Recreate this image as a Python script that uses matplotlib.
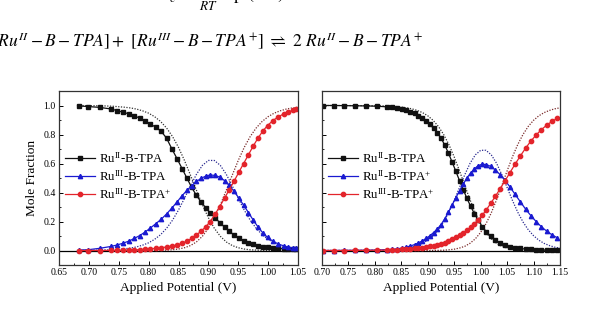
import matplotlib.pyplot as plt
from matplotlib.ticker import MultipleLocator

plt.rcParams['font.family'] = ['Liberation Serif', 'DejaVu Serif']
plt.rcParams['mathtext.fontset'] = 'custom'
plt.rcParams['mathtext.rm'] = 'Liberation Serif'
plt.rcParams['mathtext.it'] = 'Liberation Serif:italic'

# Left panel: measured points (V, mole fraction)
x_left = [0.683, 0.698, 0.718, 0.737, 0.747, 0.757, 0.767, 0.776, 0.785, 0.794,
          0.803, 0.812, 0.821, 0.830, 0.839, 0.848, 0.856, 0.864, 0.872, 0.880,
          0.888, 0.896, 0.903, 0.911, 0.919, 0.927, 0.935, 0.943, 0.951, 0.959,
          0.967, 0.975, 0.983, 0.991, 0.999, 1.008, 1.017, 1.026, 1.034, 1.041, 1.047]
ru2_left = [0.997, 0.993, 0.987, 0.976, 0.965, 0.954, 0.942, 0.929, 0.913, 0.893,
            0.872, 0.850, 0.822, 0.775, 0.700, 0.630, 0.565, 0.500, 0.435, 0.380,
            0.333, 0.293, 0.260, 0.226, 0.193, 0.162, 0.133, 0.107, 0.086, 0.068,
            0.054, 0.043, 0.034, 0.027, 0.022, 0.018, 0.015, 0.012, 0.011, 0.010, 0.009]
ru3_left = [0.003, 0.005, 0.015, 0.028, 0.038, 0.050, 0.065, 0.083, 0.103, 0.127,
            0.155, 0.185, 0.215, 0.252, 0.293, 0.337, 0.378, 0.414, 0.447, 0.476,
            0.498, 0.514, 0.521, 0.518, 0.506, 0.482, 0.449, 0.408, 0.362, 0.312,
            0.262, 0.210, 0.163, 0.122, 0.090, 0.064, 0.045, 0.032, 0.024, 0.018, 0.014]
ru3p_left = [0.0, 0.0, 0.0, 0.001, 0.001, 0.002, 0.003, 0.004, 0.006, 0.008,
             0.011, 0.015, 0.019, 0.024, 0.030, 0.038, 0.050, 0.064, 0.083, 0.107,
             0.134, 0.165, 0.200, 0.249, 0.303, 0.360, 0.420, 0.478, 0.540, 0.600,
             0.660, 0.720, 0.775, 0.823, 0.862, 0.896, 0.922, 0.942, 0.956, 0.966, 0.975]

# Left panel: dotted curves
xf_left = [0.68, 0.70, 0.72, 0.74, 0.76, 0.77, 0.78, 0.79, 0.80, 0.81, 0.82, 0.83,
           0.84, 0.85, 0.86, 0.87, 0.88, 0.89, 0.90, 0.91, 0.92, 0.93, 0.94, 0.95,
           0.96, 0.97, 0.98, 0.99, 1.00, 1.01, 1.02, 1.03, 1.04, 1.05]
ru2f_left = [1.0, 0.999, 0.998, 0.995, 0.988, 0.983, 0.975, 0.963, 0.947, 0.923, 0.890, 0.845,
             0.786, 0.711, 0.621, 0.520, 0.416, 0.315, 0.226, 0.153, 0.098, 0.059, 0.034, 0.019,
             0.010, 0.005, 0.003, 0.001, 0.001, 0.0, 0.0, 0.0, 0.0, 0.0]
ru3f_left = [0.001, 0.001, 0.003, 0.005, 0.012, 0.017, 0.025, 0.037, 0.053, 0.077, 0.109, 0.153,
             0.209, 0.279, 0.360, 0.446, 0.525, 0.587, 0.621, 0.621, 0.587, 0.525, 0.446, 0.360,
             0.279, 0.209, 0.153, 0.109, 0.077, 0.053, 0.037, 0.025, 0.017, 0.012]
ru3pf_left = [0.0, 0.0, 0.0, 0.0, 0.0, 0.0, 0.0, 0.0, 0.0, 0.001, 0.001, 0.003,
              0.005, 0.010, 0.019, 0.034, 0.059, 0.098, 0.153, 0.226, 0.315, 0.416, 0.520, 0.621,
              0.711, 0.786, 0.845, 0.890, 0.923, 0.947, 0.963, 0.975, 0.983, 0.988]

# Right panel: measured points
x_right = [0.702, 0.722, 0.742, 0.763, 0.783, 0.804, 0.822, 0.833, 0.842, 0.851,
           0.859, 0.867, 0.875, 0.882, 0.889, 0.897, 0.904, 0.911, 0.918, 0.925,
           0.932, 0.939, 0.946, 0.953, 0.960, 0.967, 0.974, 0.981, 0.988, 0.995,
           1.003, 1.011, 1.019, 1.028, 1.037, 1.046, 1.055, 1.065, 1.075, 1.085,
           1.095, 1.105, 1.115, 1.125, 1.135, 1.145]
ru2_right = [1.0, 1.0, 0.999, 0.998, 0.997, 0.995, 0.991, 0.988, 0.983, 0.977,
             0.968, 0.958, 0.945, 0.931, 0.915, 0.893, 0.870, 0.843, 0.813, 0.775,
             0.728, 0.672, 0.610, 0.547, 0.482, 0.420, 0.360, 0.305, 0.255, 0.210,
             0.165, 0.128, 0.098, 0.072, 0.052, 0.037, 0.027, 0.019, 0.014, 0.010,
             0.007, 0.005, 0.004, 0.003, 0.002, 0.002]
ru2p_right = [0.0, 0.0, 0.001, 0.001, 0.002, 0.003, 0.006, 0.008, 0.012, 0.016,
              0.023, 0.031, 0.041, 0.052, 0.065, 0.083, 0.102, 0.124, 0.148, 0.179,
              0.218, 0.264, 0.314, 0.363, 0.413, 0.458, 0.500, 0.535, 0.562, 0.585,
              0.595, 0.593, 0.580, 0.555, 0.522, 0.484, 0.440, 0.388, 0.336, 0.285,
              0.240, 0.199, 0.163, 0.133, 0.108, 0.087]
ru3p_right = [0.0, 0.0, 0.0, 0.001, 0.001, 0.002, 0.003, 0.004, 0.005, 0.007,
              0.009, 0.011, 0.014, 0.017, 0.020, 0.024, 0.028, 0.033, 0.039, 0.046,
              0.054, 0.064, 0.076, 0.090, 0.105, 0.122, 0.140, 0.160, 0.183, 0.210,
              0.243, 0.282, 0.325, 0.375, 0.427, 0.480, 0.535, 0.595, 0.652, 0.706,
              0.755, 0.797, 0.834, 0.865, 0.891, 0.912]

# Right panel: dotted curves
xf_right = [0.70, 0.74, 0.78, 0.80, 0.82, 0.84, 0.85, 0.86, 0.87, 0.88, 0.89, 0.90,
            0.91, 0.92, 0.93, 0.94, 0.95, 0.96, 0.97, 0.98, 0.99, 1.00, 1.01, 1.02,
            1.03, 1.04, 1.05, 1.06, 1.07, 1.08, 1.09, 1.10, 1.11, 1.12, 1.13, 1.14, 1.15]
ru2f_right = [1.0, 1.0, 0.999, 0.998, 0.997, 0.993, 0.989, 0.984, 0.977, 0.966, 0.951, 0.929,
              0.898, 0.856, 0.800, 0.730, 0.645, 0.549, 0.448, 0.349, 0.259, 0.184, 0.125, 0.081,
              0.050, 0.029, 0.017, 0.009, 0.005, 0.002, 0.001, 0.001, 0.0, 0.0, 0.0, 0.0, 0.0]
ru2pf_right = [0.0, 0.0, 0.001, 0.002, 0.003, 0.007, 0.011, 0.016, 0.023, 0.034, 0.049, 0.071,
               0.102, 0.143, 0.197, 0.265, 0.346, 0.435, 0.523, 0.602, 0.660, 0.691, 0.691, 0.660,
               0.602, 0.523, 0.435, 0.346, 0.265, 0.197, 0.143, 0.102, 0.071, 0.049, 0.034, 0.023, 0.016]
ru3pf_right = [0.0, 0.0, 0.0, 0.0, 0.0, 0.0, 0.0, 0.0, 0.0, 0.0, 0.0, 0.0,
               0.001, 0.001, 0.002, 0.005, 0.009, 0.017, 0.029, 0.050, 0.081, 0.125, 0.184, 0.259,
               0.349, 0.448, 0.549, 0.645, 0.730, 0.800, 0.856, 0.898, 0.929, 0.951, 0.966, 0.977, 0.984]

labels_left = [r'Ru$^{\rm II}$-B-TPA', r'Ru$^{\rm III}$-B-TPA', r'Ru$^{\rm III}$-B-TPA$^{+}$']
labels_right = [r'Ru$^{\rm II}$-B-TPA', r'Ru$^{\rm II}$-B-TPA$^{+}$', r'Ru$^{\rm III}$-B-TPA$^{+}$']
xticks_left = [0.65, 0.70, 0.75, 0.80, 0.85, 0.90, 0.95, 1.00, 1.05]
xticks_right = [0.70, 0.75, 0.80, 0.85, 0.90, 0.95, 1.00, 1.05, 1.10, 1.15]
yticks = [0.0, 0.2, 0.4, 0.6, 0.8, 1.0]

c_black = '#111111'
c_blue = '#1a1ad0'
c_red = '#e3242b'

fig = plt.figure(figsize=(5.91, 3.09), dpi=100)

# equation text above the plots (partly cut off, like the page)
fig.text(157 / 591, 1 - 1 / 309, r'$K_c$', fontsize=13, math_fontfamily='stix', va='baseline')
fig.text(199 / 591, 1 - 10 / 309, r'$RT$', fontsize=9.5, math_fontfamily='stix', va='baseline')
fig.text(217 / 591, 1 + 1 / 309, r'$\exp\,(\Delta E)$', fontsize=13, math_fontfamily='stix', va='baseline')
fig.text(-8 / 591, 1 - 47 / 309,
         r'$[Ru^{II}-B-TPA]+\ [Ru^{III}-B-TPA^{+}]\ \rightleftharpoons\ 2\ Ru^{II}-B-TPA^{+}$',
         fontsize=12.6, math_fontfamily='stix', va='baseline', ha='left')

ax1 = fig.add_axes([59 / 591, 44 / 309, 239 / 591, 174 / 309])
ax2 = fig.add_axes([322 / 591, 44 / 309, 238 / 591, 174 / 309])


def draw_panel(ax, x, ys, xf, yfs, labels, xticks):
    dot_cols = ['#333333', '#2a2a90', '#7a2a2a']
    for yf, c in zip(yfs, dot_cols):
        ax.plot(xf, yf, linestyle=(0, (1, 1.2)), color=c, lw=0.9)
    ax.axhline(0, color='black', lw=0.9)
    styles = [(c_black, 's'), (c_blue, '^'), (c_red, 'o')]
    for y, (c, m), lab in zip(ys, styles, labels):
        ax.plot(x, y, color=c, marker=m, ms=3.1, lw=0.9, label=lab)
    ax.set_xlim(xticks[0], xticks[-1])
    ax.set_ylim(-0.1, 1.1)
    ax.set_xticks(xticks)
    ax.set_xticklabels(['%.2f' % t for t in xticks])
    ax.set_yticks(yticks)
    ax.xaxis.set_minor_locator(MultipleLocator(0.025))
    ax.yaxis.set_minor_locator(MultipleLocator(0.1))
    ax.tick_params(direction='in', length=3, width=0.7, labelsize=7, pad=2.5)
    ax.tick_params(which='minor', direction='in', length=1.5, width=0.6)
    for s in ax.spines.values():
        s.set_linewidth(0.9)
        s.set_color('#333333')
    ax.set_xlabel('Applied Potential (V)', fontsize=9.6, labelpad=3.5)
    ax.legend(loc='upper left', bbox_to_anchor=(0.025, 0.655), frameon=False, fontsize=9.3,
              handlelength=2.3, handletextpad=0.3, labelspacing=0.25,
              borderpad=0, borderaxespad=0)


draw_panel(ax1, x_left, [ru2_left, ru3_left, ru3p_left],
           xf_left, [ru2f_left, ru3f_left, ru3pf_left], labels_left, xticks_left)
ax1.set_yticklabels(['%.1f' % t for t in yticks])
ax1.set_ylabel('Mole Fraction', fontsize=9.6, labelpad=4)

draw_panel(ax2, x_right, [ru2_right, ru2p_right, ru3p_right],
           xf_right, [ru2f_right, ru2pf_right, ru3pf_right], labels_right, xticks_right)
ax2.set_yticklabels([])

fig.savefig('out.png', dpi=100)
